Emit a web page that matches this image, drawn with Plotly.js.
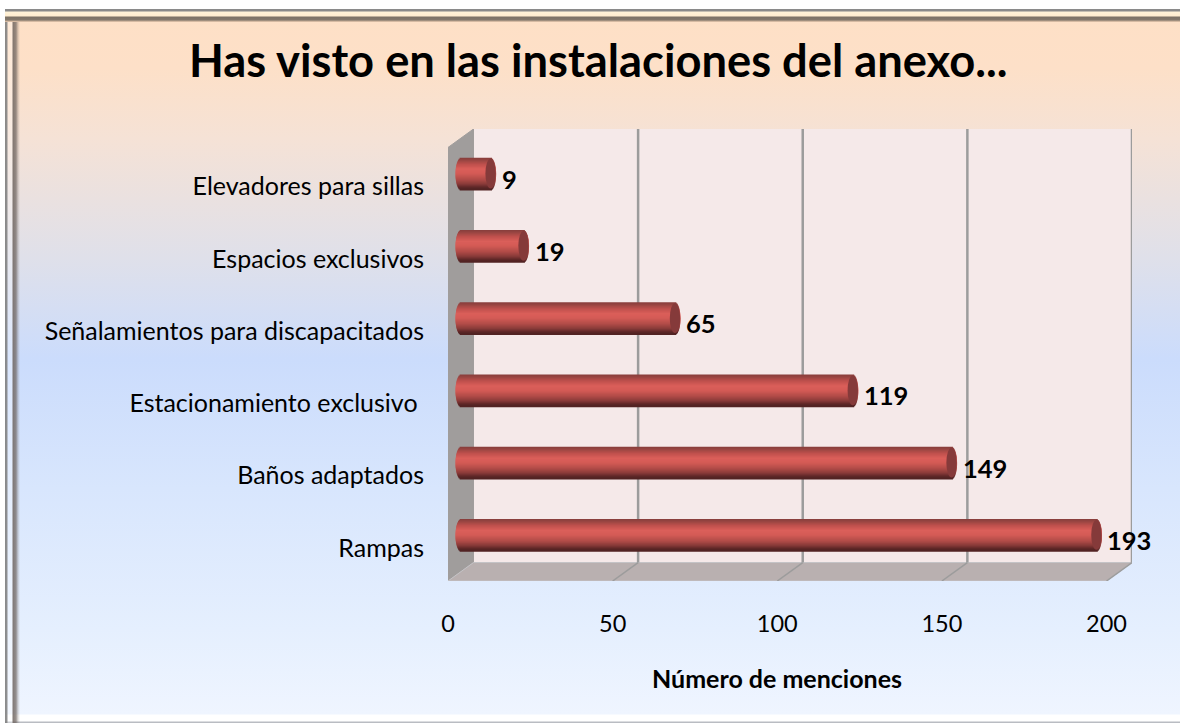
<!DOCTYPE html>
<html>
<head>
<meta charset="utf-8">
<script src="https://cdn.plot.ly/plotly-3.0.1.min.js"></script>
<style>
html,body{margin:0;padding:0;width:1180px;height:723px;overflow:hidden;background:#fff}
#bg{position:absolute;left:5px;top:9px;width:1175px;height:714px;
 background:linear-gradient(180deg,#fee0c6 0px,#fde0c8 60px,#f5e2d6 130px,#dfe0ea 250px,#cbdcfc 350px,#d8e6fd 480px,#e5effe 620px,#eff5ff 705px,#ffffff 706px,#ffffff 712px,#b9bcc2 713px)}
#fl{position:absolute;left:5px;top:9px;width:15px;height:714px;
 background:linear-gradient(90deg,rgba(125,125,125,.9) 0,rgba(135,135,135,.9) 2px,rgba(255,255,255,.25) 3px,rgba(255,255,255,.35) 7px,rgba(110,100,95,.85) 8px,rgba(110,100,95,.7) 11px,rgba(110,100,95,.25) 13px,rgba(110,100,95,0) 15px)}
#ft{position:absolute;left:5px;top:9px;width:1175px;height:13px;
 background:linear-gradient(180deg,#8a8a8a 0,#8a8a8a 2px,#fff2d8 3px,#ffeccf 7px,#7c7266 8px,#85796c 11px,#f0cfb4 13px)}
#chart{position:absolute;left:0;top:0;width:1180px;height:723px}
</style>
</head>
<body>
<div id="bg"></div><div id="fl"></div><div id="ft"></div>
<div id="chart"></div>
<script>
var categories = ["Rampas","Baños adaptados","Estacionamiento exclusivo ","Señalamientos para discapacitados","Espacios exclusivos","Elevadores para sillas"];
var menciones = [193,149,119,65,19,9];
var xTicks = [0,50,100,150,200];
var titleText = "Has visto en las instalaciones del anexo...";
var xTitle = "Número de menciones";

// ---- layout geometry (px) -----
var W=1180,H=723,L=448,R=1107,T=147,B=581;
var pxX=(R-L)/200, pxY=(B-T)/6;
var depthX=25.5/pxX, depthY=18.5/pxY;        // depth of the 3D box, in axis units
var barShiftX=13/pxX, barShiftY=10/pxY;      // bars sit inside the depth
var capR=5.5/pxX, barPx=32;

// vertical colour profile of the cylinder, top to bottom
var profile=[[0,[134,62,60]],[0.07,[150,68,65]],[0.2,[190,80,76]],[0.36,[219,95,90]],[0.5,[212,91,86]],[0.68,[178,76,72]],[0.82,[140,60,58]],[0.93,[95,40,40]],[1,[78,34,34]]];
function colourAt(t){
  for(var i=1;i<profile.length;i++){ if(t<=profile[i][0]){
    var a=profile[i-1],b=profile[i],f=(t-a[0])/(b[0]-a[0]);
    return 'rgb('+[0,1,2].map(function(k){return Math.round(a[1][k]+(b[1][k]-a[1][k])*f);}).join(',')+')';
  }}
  return 'rgb(78,34,34)';
}
var traces=[];
for(var p=0;p<barPx;p++){
  var t=(p+0.5)/barPx, e=Math.sqrt(Math.max(0,1-Math.pow(2*t-1,2)))*capR;
  traces.push({
    type:'bar',orientation:'h',y:categories,
    x:menciones.map(function(v){return v+2*e;}),
    base:menciones.map(function(){return barShiftX-e;}),
    offset:barShiftY+(barPx/2-p-2)/pxY,
    width:2/pxY,
    marker:{color:colourAt(t),line:{width:0}},
    hoverinfo:'skip',showlegend:false
  });
}

var shapes=[];
function poly(pts,fill,line,layer){
  shapes.push({type:'path',xref:'x',yref:'y',layer:layer||'below',
    path:'M'+pts.map(function(q){return q[0]+','+q[1];}).join(' L')+' Z',
    fillcolor:fill,line:line||{width:0}});
}
var yLo=-0.5,yHi=5.5;
// back wall, side wall, floor
poly([[depthX,yLo+depthY],[200+depthX,yLo+depthY],[200+depthX,yHi+depthY],[depthX,yHi+depthY]],'#f5e9e9');
poly([[0,yLo],[depthX,yLo+depthY],[depthX,yHi+depthY],[0,yHi]],'#a09d9c',{color:'#a09d9c',width:1});
poly([[0,yLo],[200,yLo],[200+depthX,yLo+depthY],[depthX,yLo+depthY]],'#b9b0b0',{color:'#c4c3c6',width:1});
// gridlines
xTicks.forEach(function(v){
  if(v>0){
    shapes.push({type:'line',xref:'x',yref:'y',layer:'below',x0:v+depthX,x1:v+depthX,y0:yLo+depthY,y1:yHi+depthY,line:{color:'#9c9c9c',width:2.5}});
    shapes.push({type:'line',xref:'x',yref:'y',layer:'below',x0:v,x1:v+depthX,y0:yLo,y1:yLo+depthY,line:{color:'#9c9c9c',width:1.5}});
  }
});
// cylinder end faces
menciones.forEach(function(v,i){
  var cy=i+barShiftY, ry=(barPx/2-1)/pxY, rx=capR*0.95, cx=v+barShiftX;
  shapes.push({type:'circle',xref:'x',yref:'y',layer:'above',x0:cx-rx,x1:cx+rx,y0:cy-ry,y1:cy+ry,fillcolor:'#853a3a',line:{width:0}});
});

var annotations=menciones.map(function(v,i){
  return {x:v,y:categories[i],xref:'x',yref:'y',text:String(v),showarrow:false,xanchor:'left',yanchor:'middle',
    xshift:22,yshift:5,font:{family:'Lato',size:25.5,color:'#000',weight:700}};
});
// axis title, centred on the front edge of the box (x=100)
annotations.push({x:100,xref:'x',y:0,yref:'paper',yshift:-(678-B),text:xTitle,showarrow:false,xanchor:'center',yanchor:'middle',
  font:{family:'Lato',size:25,color:'#000',weight:700}});

// The plot area is extended by the depth of the box so walls are not clipped
var layout={
  width:W,height:H,autosize:false,
  margin:{l:L,r:W-R-depthX*pxX,t:T-depthY*pxY,b:H-B,pad:0},
  paper_bgcolor:'rgba(0,0,0,0)',plot_bgcolor:'rgba(0,0,0,0)',
  barmode:'overlay',showlegend:false,
  title:{text:titleText,font:{family:'Lato',size:45.3,color:'#000',weight:700},x:0.507,xanchor:'center',y:0.915,yanchor:'middle'},
  xaxis:{range:[0,200+depthX],tickmode:'array',tickvals:xTicks,ticktext:xTicks.map(String),showgrid:false,zeroline:false,showline:false,
    ticks:'outside',ticklen:22,tickcolor:'rgba(0,0,0,0)',tickfont:{family:'Lato',size:23.5,color:'#000'},automargin:false},
  yaxis:{type:'category',categoryorder:'array',categoryarray:categories,range:[yLo,yHi+depthY],showgrid:false,zeroline:false,showline:false,
    ticks:'outside',ticklen:18,tickcolor:'rgba(0,0,0,0)',ticklabelshift:3,tickfont:{family:'Lato',size:25,color:'#000'},automargin:false},
  shapes:shapes,annotations:annotations
};
Plotly.newPlot('chart',traces,layout,{displayModeBar:false,staticPlot:true});
</script>
</body>
</html>
